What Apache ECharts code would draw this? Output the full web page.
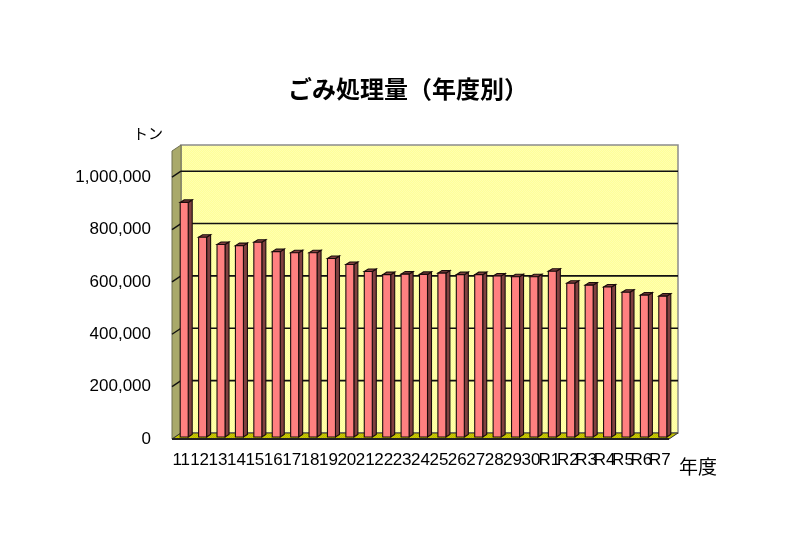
<!DOCTYPE html>
<html><head><meta charset="utf-8">
<style>html,body{margin:0;padding:0;background:#fff}#c{width:800px;height:559px}</style>
<script src="https://cdn.jsdelivr.net/npm/echarts@6/dist/echarts.min.js"></script>
</head><body><div id="c"></div>
<script>
const categories = ['11','12','13','14','15','16','17','18','19','20','21','22','23','24','25','26','27','28','29','30','R1','R2','R3','R4','R5','R6','R7'];
const tonnage = [896000,763000,735000,731000,744000,708000,704000,704000,682000,659000,632000,620000,622000,621000,626000,620000,620000,615000,612000,612000,633000,587000,580000,573000,553000,542000,538000];
const tickValues = [0,200000,400000,600000,800000,1000000];
const titleText = 'ごみ処理量（年度別）';
const yUnit = 'トン';
const xUnit = '年度';

const DX = 9, DY = -6;
function dither(a, b) {
  const c = document.createElement('canvas'); c.width = c.height = 2;
  const g = c.getContext('2d');
  g.fillStyle = a; g.fillRect(0,0,2,2);
  g.fillStyle = b; g.fillRect(0,0,1,1); g.fillRect(1,1,1,1);
  return c;
}
const wallFill = {image: dither('#ffff99','#ffffb0'), repeat:'repeat'};
const floorFill = {image: dither('#cccc00','#b8b800'), repeat:'repeat'};
const poly = (pts, fill, stroke, w, z) => ({type:'polygon', z2:z||0, shape:{points:pts}, style:{fill, stroke, lineWidth:w===undefined?1:w}});
const ln = (a,b,stroke,w,z) => ({type:'line', z2:z||0, shape:{x1:a[0],y1:a[1],x2:b[0],y2:b[1]}, style:{stroke, lineWidth:w}});

const chart = echarts.init(document.getElementById('c'), null, {renderer:'canvas'});
chart.setOption({
  animation:false,
  backgroundColor:'#fff',
  title:{text:titleText,left:403,top:72,textAlign:'center',textStyle:{fontFamily:'"Noto Sans CJK JP"',fontSize:24,fontWeight:'bold',color:'#000'}},
  grid:{left:172,right:131,top:151,bottom:120},
  xAxis:{type:'category',data:categories,
    axisLine:{show:false},axisTick:{show:false},
    axisLabel:{interval:0,hideOverlap:false,margin:13,fontFamily:'"Liberation Sans"',fontSize:17,color:'#000'}},
  yAxis:{type:'value',min:0,max:1100000,interval:200000,
    axisLine:{show:false},axisTick:{show:false},splitLine:{show:false},
    axisLabel:{customValues:tickValues,margin:21,fontFamily:'"Liberation Sans"',fontSize:17,color:'#000',
      formatter:v=>Number(v).toLocaleString('en-US')}},
  graphic:[
    {type:'text',left:133,top:126,style:{text:yUnit,fontFamily:'"Noto Sans CJK JP"',fontSize:15,fill:'#000'}},
    {type:'text',left:679,top:457,style:{text:xUnit,fontFamily:'"Noto Sans CJK JP"',fontSize:19,fill:'#000'}}
  ],
  series:[
    {type:'custom',coordinateSystem:'cartesian2d',silent:true,clip:false,z:1,
     data:[[0,0]],encode:{x:0,y:1},
     renderItem(params,api){
       const cs = params.coordSys;
       const L=cs.x,R=cs.x+cs.width,T=cs.y,B=cs.y+cs.height;
       const ch=[
         poly([[L+DX,T+DY],[R+DX,T+DY],[R+DX,B+DY],[L+DX,B+DY]],wallFill,'#8c8c8c',1.5),
         poly([[L,T],[L+DX,T+DY],[L+DX,B+DY],[L,B]],'#a9a96a','#707050',1),
         poly([[L,B],[L+DX,B+DY],[R+DX,B+DY],[R,B]],floorFill,'#333',1),
         ln([L,B],[R,B],'#222',2)
       ];
       tickValues.forEach(v=>{
         const y=api.coord([0,v])[1];
         if(v>0){
           ch.push(ln([L,y],[L+DX,y+DY],'#111',1.4));
           ch.push(ln([L+DX,y+DY],[R+DX,y+DY],'#111',1.6));
         }
       });
       return {type:'group',children:ch};
     }},
    {type:'custom',coordinateSystem:'cartesian2d',silent:true,clip:false,z:2,
     data:tonnage.map((v,i)=>[i,v]),encode:{x:0,y:1},
     renderItem(params,api){
       const p=api.coord([api.value(0),api.value(1)]);
       const b=api.coord([api.value(0),0]);
       const w=8,dx=4,dy=-2.5,ox=3,oy=-2;
       const x0=p[0]+ox-w/2,x1=x0+w,yT=p[1]+oy,yB=b[1]+oy;
       return {type:'group',children:[
         poly([[x1,yT],[x1+dx,yT+dy],[x1+dx,yB+dy],[x1,yB]],'#804040','#1a0c0c',1.1),
         poly([[x0,yT],[x0+dx,yT+dy],[x1+dx,yT+dy],[x1,yT]],'#804040','#1a0c0c',1.1),
         poly([[x0,yT],[x1,yT],[x1,yB],[x0,yB]],'#ff8080','#1a0c0c',1.1)
       ]};
     }}
  ]
});
</script></body></html>
